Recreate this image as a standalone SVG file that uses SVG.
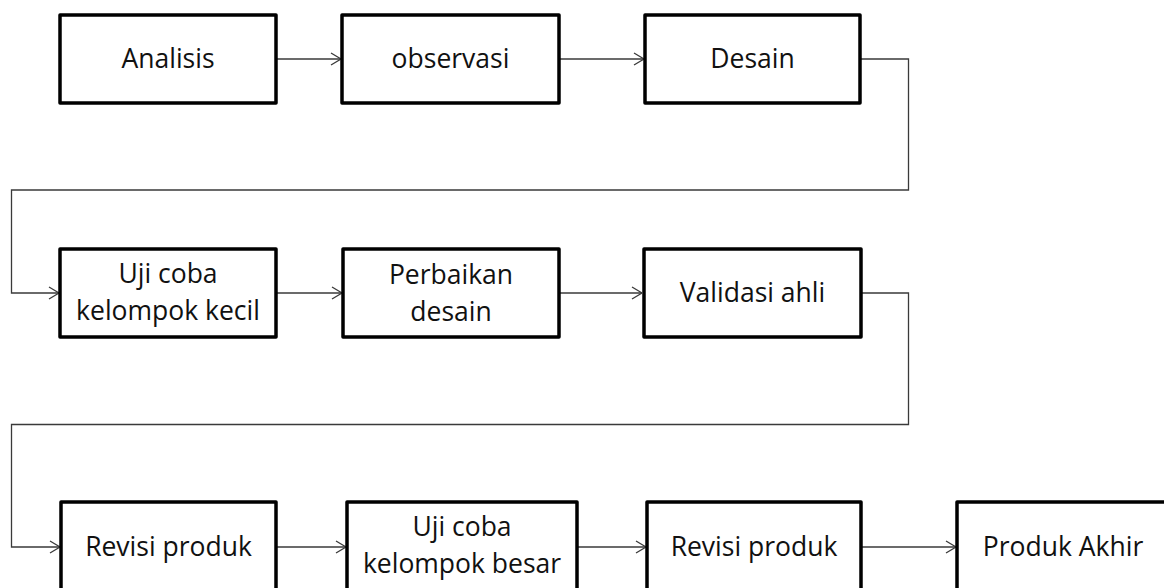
<svg xmlns="http://www.w3.org/2000/svg" width="1164" height="588" viewBox="0 0 1164 588">
<style>
.box{fill:#ffffff;stroke:#000000;stroke-width:3.5;stroke-linejoin:round}
.lbl{font-family:"Open Sans","Noto Sans","Liberation Sans",sans-serif;font-size:26.5px;fill:#111111;text-anchor:middle}
.con{fill:none;stroke:#3a3a3a;stroke-width:1.3}
</style>
<defs>
<marker id="arr" viewBox="0 0 11 14" refX="11" refY="7" markerWidth="11" markerHeight="14" markerUnits="userSpaceOnUse" orient="auto">
<path d="M1,1 L11,7 L1,13" fill="none" stroke="#3a3a3a" stroke-width="1.3"/>
</marker>
</defs>
<rect width="1164" height="588" fill="#ffffff"/>
<g id="connectors">
<path class="con" d="M276,59 H341" marker-end="url(#arr)"/>
<path class="con" d="M559,59 H644" marker-end="url(#arr)"/>
<path class="con" d="M860,59 H908.5 V190 H11.5 V293 H59" marker-end="url(#arr)"/>
<path class="con" d="M276,293 H342" marker-end="url(#arr)"/>
<path class="con" d="M559,293 H642" marker-end="url(#arr)"/>
<path class="con" d="M861,293 H908.5 V424.5 H11.5 V547 H60" marker-end="url(#arr)"/>
<path class="con" d="M276,547 H346" marker-end="url(#arr)"/>
<path class="con" d="M577,547 H646" marker-end="url(#arr)"/>
<path class="con" d="M861,547 H956" marker-end="url(#arr)"/>
</g>
<g id="n1"><rect class="box" x="60" y="15" width="216" height="88"/><text class="lbl" x="168" y="68">Analisis</text></g>
<g id="n2"><rect class="box" x="342" y="15" width="217" height="88"/><text class="lbl" x="450.5" y="68">observasi</text></g>
<g id="n3"><rect class="box" x="645" y="15" width="215" height="88"/><text class="lbl" x="752.5" y="68">Desain</text></g>
<g id="n4"><rect class="box" x="60" y="249" width="216" height="88"/><text class="lbl" x="168" y="283">Uji coba</text><text class="lbl" x="168" y="320">kelompok kecil</text></g>
<g id="n5"><rect class="box" x="343" y="249" width="216" height="88"/><text class="lbl" x="451" y="284">Perbaikan</text><text class="lbl" x="451" y="321">desain</text></g>
<g id="n6"><rect class="box" x="644" y="249" width="217" height="88"/><text class="lbl" x="752.5" y="302">Validasi ahli</text></g>
<g id="n7"><rect class="box" x="61" y="502" width="215" height="88"/><text class="lbl" x="168.5" y="556">Revisi produk</text></g>
<g id="n8"><rect class="box" x="347" y="502" width="230" height="88"/><text class="lbl" x="462" y="536">Uji coba</text><text class="lbl" x="462" y="573">kelompok besar</text></g>
<g id="n9"><rect class="box" x="647" y="502" width="214" height="88"/><text class="lbl" x="754" y="556">Revisi produk</text></g>
<g id="n10"><rect class="box" x="957" y="502" width="214" height="88"/><text class="lbl" x="1063" y="556">Produk Akhir</text></g>
</svg>
